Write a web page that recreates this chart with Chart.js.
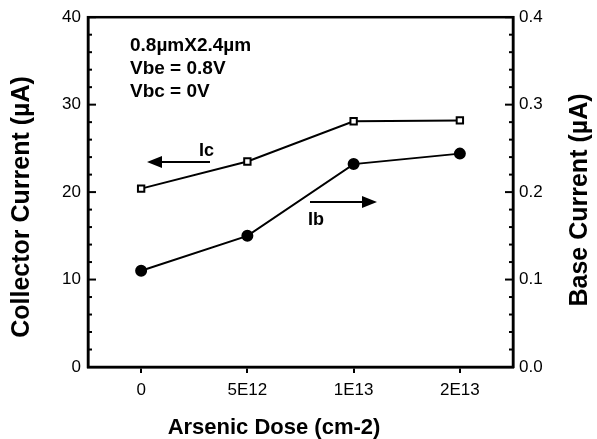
<!DOCTYPE html>
<html>
<head>
<meta charset="utf-8">
<script src="https://cdn.jsdelivr.net/npm/chart.js@4.4.0/dist/chart.umd.min.js"></script>
<style>
  html, body { margin: 0; padding: 0; background: #fff; }
  #wrap { width: 597px; height: 439px; }
</style>
</head>
<body>
<div id="wrap"><canvas id="chart" width="597" height="439"></canvas></div>
<script>
const doses = ["0", "5E12", "1E13", "2E13"];
const collectorCurrent = [20.4, 23.5, 28.1, 28.2];
const baseCurrent = [0.110, 0.150, 0.232, 0.244];

const FONT = "'Liberation Sans', Arial, Helvetica, sans-serif";

// inner tick marks, frame box, axis titles and the text/arrow notes
const extras = {
  id: "extras",
  afterDraw(chart) {
    const ctx = chart.ctx;
    const a = chart.chartArea;
    const y = chart.scales.y;
    const y1 = chart.scales.y1;
    ctx.save();
    ctx.strokeStyle = "#000";
    ctx.lineWidth = 2.5;
    ctx.strokeRect(a.left, a.top, a.right - a.left, a.bottom - a.top);

    ctx.lineWidth = 2;
    for (let v = 0; v <= 40; v += 2) {
      const p = y.getPixelForValue(v);
      const len = v % 10 === 0 ? 8 : 4;
      ctx.beginPath();
      ctx.moveTo(a.left, p);
      ctx.lineTo(a.left + len, p);
      ctx.stroke();
    }
    for (let i = 0; i <= 20; i++) {
      const v = i * 0.02;
      const p = y1.getPixelForValue(v);
      const len = i % 5 === 0 ? 8 : 4;
      ctx.beginPath();
      ctx.moveTo(a.right, p);
      ctx.lineTo(a.right - len, p);
      ctx.stroke();
    }

    ctx.fillStyle = "#000";
    ctx.textBaseline = "middle";
    ctx.textAlign = "center";

    // axis titles
    ctx.font = "bold 22px " + FONT;
    ctx.fillText("Arsenic Dose (cm-2)", 274, 428);
    ctx.font = "bold 25px " + FONT;
    ctx.save();
    ctx.translate(22, 207);
    ctx.rotate(-Math.PI / 2);
    ctx.fillText("Collector Current (\u00b5A)", 0, 0);
    ctx.restore();
    ctx.save();
    ctx.translate(580, 200);
    ctx.rotate(-Math.PI / 2);
    ctx.fillText("Base Current (\u00b5A)", 0, 0);
    ctx.restore();

    ctx.textAlign = "left";
    ctx.font = "bold 19px " + FONT;
    ctx.fillText("0.8\u00b5mX2.4\u00b5m", 130, 46);
    ctx.fillText("Vbe = 0.8V", 130, 69);
    ctx.fillText("Vbc = 0V", 130, 92);

    ctx.font = "bold 18px " + FONT;
    ctx.fillText("Ic", 199, 151);
    ctx.fillText("Ib", 308, 220);

    // arrows
    ctx.lineWidth = 2;
    ctx.beginPath();
    ctx.moveTo(210, 162);
    ctx.lineTo(158, 162);
    ctx.stroke();
    ctx.beginPath();
    ctx.moveTo(147, 162);
    ctx.lineTo(162, 156);
    ctx.lineTo(162, 168);
    ctx.closePath();
    ctx.fill();

    ctx.beginPath();
    ctx.moveTo(310, 202);
    ctx.lineTo(366, 202);
    ctx.stroke();
    ctx.beginPath();
    ctx.moveTo(377, 202);
    ctx.lineTo(362, 196);
    ctx.lineTo(362, 208);
    ctx.closePath();
    ctx.fill();
    ctx.restore();
  }
};

new Chart(document.getElementById("chart"), {
  type: "line",
  data: {
    labels: doses,
    datasets: [
      {
        label: "Ic",
        data: collectorCurrent,
        yAxisID: "y",
        borderColor: "#000",
        borderWidth: 2,
        pointStyle: "rect",
        pointRadius: 4.5,
        pointBackgroundColor: "#fff",
        pointBorderColor: "#000",
        pointBorderWidth: 2,
        tension: 0
      },
      {
        label: "Ib",
        data: baseCurrent,
        yAxisID: "y1",
        borderColor: "#000",
        borderWidth: 2,
        pointStyle: "circle",
        pointRadius: 5,
        pointBackgroundColor: "#000",
        pointBorderColor: "#000",
        tension: 0
      }
    ]
  },
  options: {
    responsive: false,
    animation: false,
    layout: { padding: { top: 16, left: 0, right: 0, bottom: 0 } },
    plugins: {
      legend: { display: false },
      tooltip: { enabled: false }
    },
    scales: {
      x: {
        type: "category",
        offset: true,
        afterFit: (s) => { s.height = 72; },
        grid: { display: true, drawOnChartArea: false, drawTicks: true, tickLength: 6, color: "#000", lineWidth: 2 },
        border: { display: true, color: "#000", width: 2.5 },
        ticks: { color: "#000", font: { family: FONT, size: 17 }, padding: 7 }
      },
      y: {
        position: "left",
        min: 0,
        max: 40,
        afterFit: (s) => { s.width = 88; },
        ticks: { stepSize: 10, color: "#000", font: { family: FONT, size: 17 }, padding: 7 },
        grid: { display: true, drawOnChartArea: false, drawTicks: false },
        border: { display: true, color: "#000", width: 2.5 }
      },
      y1: {
        position: "right",
        min: 0,
        max: 0.4,
        afterFit: (s) => { s.width = 84; },
        ticks: { stepSize: 0.1, color: "#000", font: { family: FONT, size: 17 }, padding: 6, callback: (v) => Number(v).toFixed(1) },
        grid: { display: true, drawOnChartArea: false, drawTicks: false },
        border: { display: true, color: "#000", width: 2.5 }
      }
    }
  },
  plugins: [extras]
});
</script>
</body>
</html>
